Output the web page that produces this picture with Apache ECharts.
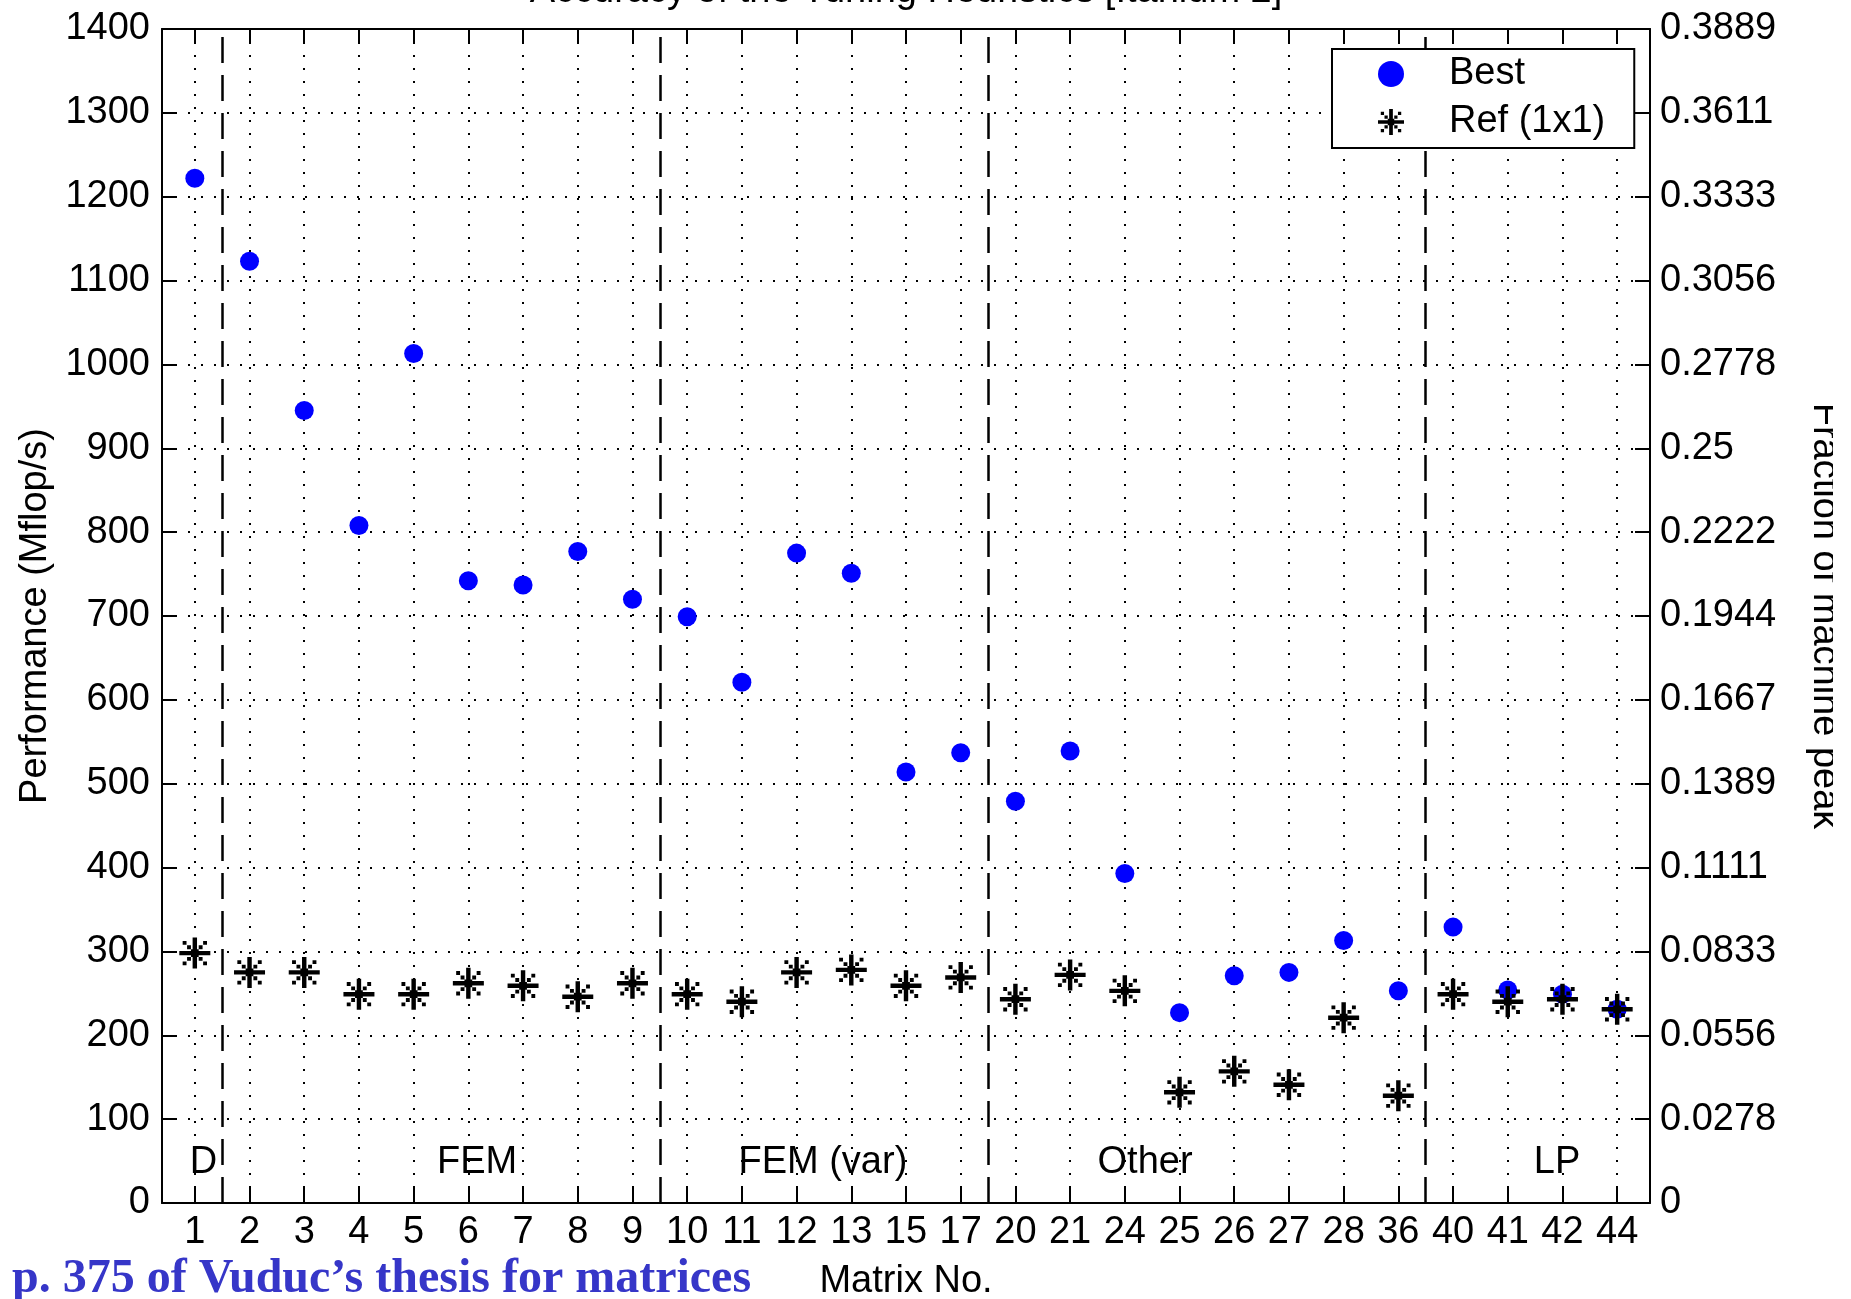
<!DOCTYPE html>
<html>
<head>
<meta charset="utf-8">
<script src="https://cdn.jsdelivr.net/npm/echarts@6/dist/echarts.min.js"></script>
<style>
html, body { margin: 0; padding: 0; background: #fff; }
#chart { width: 1851px; height: 1299px; }
</style>
</head>
<body>
<div id="chart"></div>
<script>
(function(){
var matrixIds = ['1','2','3','4','5','6','7','8','9','10','11','12','13','15','17','20','21','24','25','26','27','28','36','40','41','42','44'];
var bestPerf = [1222,1123,945,808,1013,742,737,777,720,699,621,775,751,514,537,479,539,393,227,271,275,313,253,329,254,249,231];
var refPerf = [298,275,275,249,249,262,259,246,262,249,240,275,278,259,269,243,272,253,132,157,141,221,128,249,240,243,231];
var groupBreaks = [1.5, 9.5, 15.5, 23.5];
var groupNames = ['D','FEM','FEM (var)','Other','LP'];
var groupPos = [1.16, 6.16, 12.48, 18.37, 25.9];
var groupY = 48;
var rightTickLabels = ['0','0.0278','0.0556','0.0833','0.1111','0.1389','0.1667','0.1944','0.2222','0.25','0.2778','0.3056','0.3333','0.3611','0.3889'];

var font = "'Liberation Sans', Arial, sans-serif";
var tickIdx = matrixIds.map(function(d, i){ return i + 1; });

// asterisk marker: thick plus, dotted diagonals
var starPath = 'path://M0,12H28V16H0Z M12,0H16V28H12Z M10.5,10.5H17.5V17.5H10.5Z' +
  ' M7,7H10.5V10.5H7Z M17.5,7H21V10.5H17.5Z M7,17.5H10.5V21H7Z M17.5,17.5H21V21H17.5Z' +
  ' M3,3H6.5V6.5H3Z M21.5,3H25V6.5H21.5Z M3,21.5H6.5V25H3Z M21.5,21.5H25V25H21.5Z';

var myChart = echarts.init(document.getElementById('chart'), null, {renderer: 'canvas'});

var axisLine = {show: true, onZero: false, lineStyle: {color: '#000', width: 2}};
var dotted = {show: true, lineStyle: {color: '#000', width: 2, type: [2, 11]}};

var option = {
  animation: false,
  backgroundColor: '#fff',
  title: {
    text: 'Accuracy of the Tuning Heuristics [Itanium 2]',
    left: 906,
    textAlign: 'center',
    top: -27,
    padding: 0,
    textStyle: {fontFamily: font, fontSize: 38, fontWeight: 'normal', color: '#000'}
  },
  legend: {
    data: ['Best', 'Ref (1x1)'],
    orient: 'vertical',
    left: 1332,
    top: 49,
    z: 20,
    padding: [3, 29, 4, 46],
    itemWidth: 106,
    itemHeight: 26,
    itemGap: 4,
    borderColor: '#000',
    borderWidth: 2,
    backgroundColor: '#fff',
    textStyle: {fontFamily: font, fontSize: 38, color: '#000', lineHeight: 44}
  },
  grid: {left: 162, top: 29, width: 1488, height: 1174, outerBoundsMode: 'none', containLabel: false},
  xAxis: [
    {
      type: 'value', min: 0.4, max: 27.6, position: 'bottom',
      name: 'Matrix No.', nameLocation: 'middle', nameGap: 60,
      nameTextStyle: {fontFamily: font, fontSize: 38, color: '#000'},
      axisLine: axisLine,
      axisTick: {show: true, inside: true, length: 15, customValues: tickIdx, lineStyle: {color: '#000', width: 2}},
      axisLabel: {
        customValues: tickIdx, margin: 11,
        fontFamily: font, fontSize: 38, color: '#000',
        formatter: function(v){ return matrixIds[Math.round(v) - 1]; }
      },
      splitLine: dotted
    },
    {
      type: 'value', min: 0.4, max: 27.6, position: 'top',
      axisLine: axisLine,
      axisTick: {show: true, inside: true, length: 15, customValues: tickIdx, lineStyle: {color: '#000', width: 2}},
      axisLabel: {show: false},
      splitLine: {show: false}
    }
  ],
  yAxis: [
    {
      type: 'value', min: 0, max: 1400, interval: 100, position: 'left',
      name: 'Performance (Mflop/s)', nameLocation: 'middle', nameGap: 101, nameRotate: 90,
      nameTextStyle: {fontFamily: font, fontSize: 38, color: '#000'},
      axisLine: axisLine,
      axisTick: {show: true, inside: true, length: 15, lineStyle: {color: '#000', width: 2}},
      axisLabel: {
        margin: 12, fontFamily: font, fontSize: 38, color: '#000',
        formatter: function(v){ return String(v); }
      },
      splitLine: dotted
    },
    {
      type: 'value', min: 0, max: 1400, interval: 100, position: 'right',
      name: 'Fraction of machine peak', nameLocation: 'middle', nameGap: 155, nameRotate: -90,
      nameTextStyle: {fontFamily: font, fontSize: 38, color: '#000'},
      axisLine: axisLine,
      axisTick: {show: true, inside: true, length: 15, lineStyle: {color: '#000', width: 2}},
      axisLabel: {
        margin: 10, fontFamily: font, fontSize: 38, color: '#000',
        formatter: function(v){ return rightTickLabels[Math.round(v / 100)]; }
      },
      splitLine: {show: false}
    }
  ],
  graphic: [
    {
      // the original figure is cropped on the right, cutting the axis title
      type: 'rect', right: 0, top: 0, z: 100,
      shape: {width: 18, height: 1299},
      style: {fill: '#fff'}
    },
    {
      type: 'text', left: 12, top: 1256,
      style: {
        text: 'p. 375 of Vuduc\u2019s thesis for matrices',
        font: "bold 48px 'Liberation Serif', 'Times New Roman', serif",
        fill: '#3636c8'
      }
    }
  ],
  series: [
    {
      name: 'Best', type: 'scatter',
      symbol: 'circle', symbolSize: 19,
      itemStyle: {color: '#0000ff', opacity: 1},
      data: bestPerf.map(function(v, i){ return [i + 1, v]; }),
      markLine: {
        silent: true, symbol: 'none', label: {show: false}, z: 2,
        lineStyle: {color: '#000', width: 2.5, type: [26, 12]},
        data: groupBreaks.map(function(x){ return {xAxis: x}; })
      },
      z: 3
    },
    {
      name: 'Ref (1x1)', type: 'scatter',
      symbol: starPath, symbolSize: 31, symbolKeepAspect: true,
      itemStyle: {color: '#000', opacity: 1},
      data: refPerf.map(function(v, i){ return [i + 1, v]; }),
      z: 4
    },
    {
      name: 'groups', type: 'scatter',
      symbolSize: 0, silent: true,
      itemStyle: {opacity: 1},
      label: {
        show: true, position: 'inside', opacity: 1,
        fontFamily: font, fontSize: 38, color: '#000',
        formatter: function(p){ return p.name; }
      },
      data: groupNames.map(function(n, i){ return {name: n, value: [groupPos[i], groupY]}; }),
      z: 5
    }
  ]
};

myChart.setOption(option);
})();
</script>
</body>
</html>
